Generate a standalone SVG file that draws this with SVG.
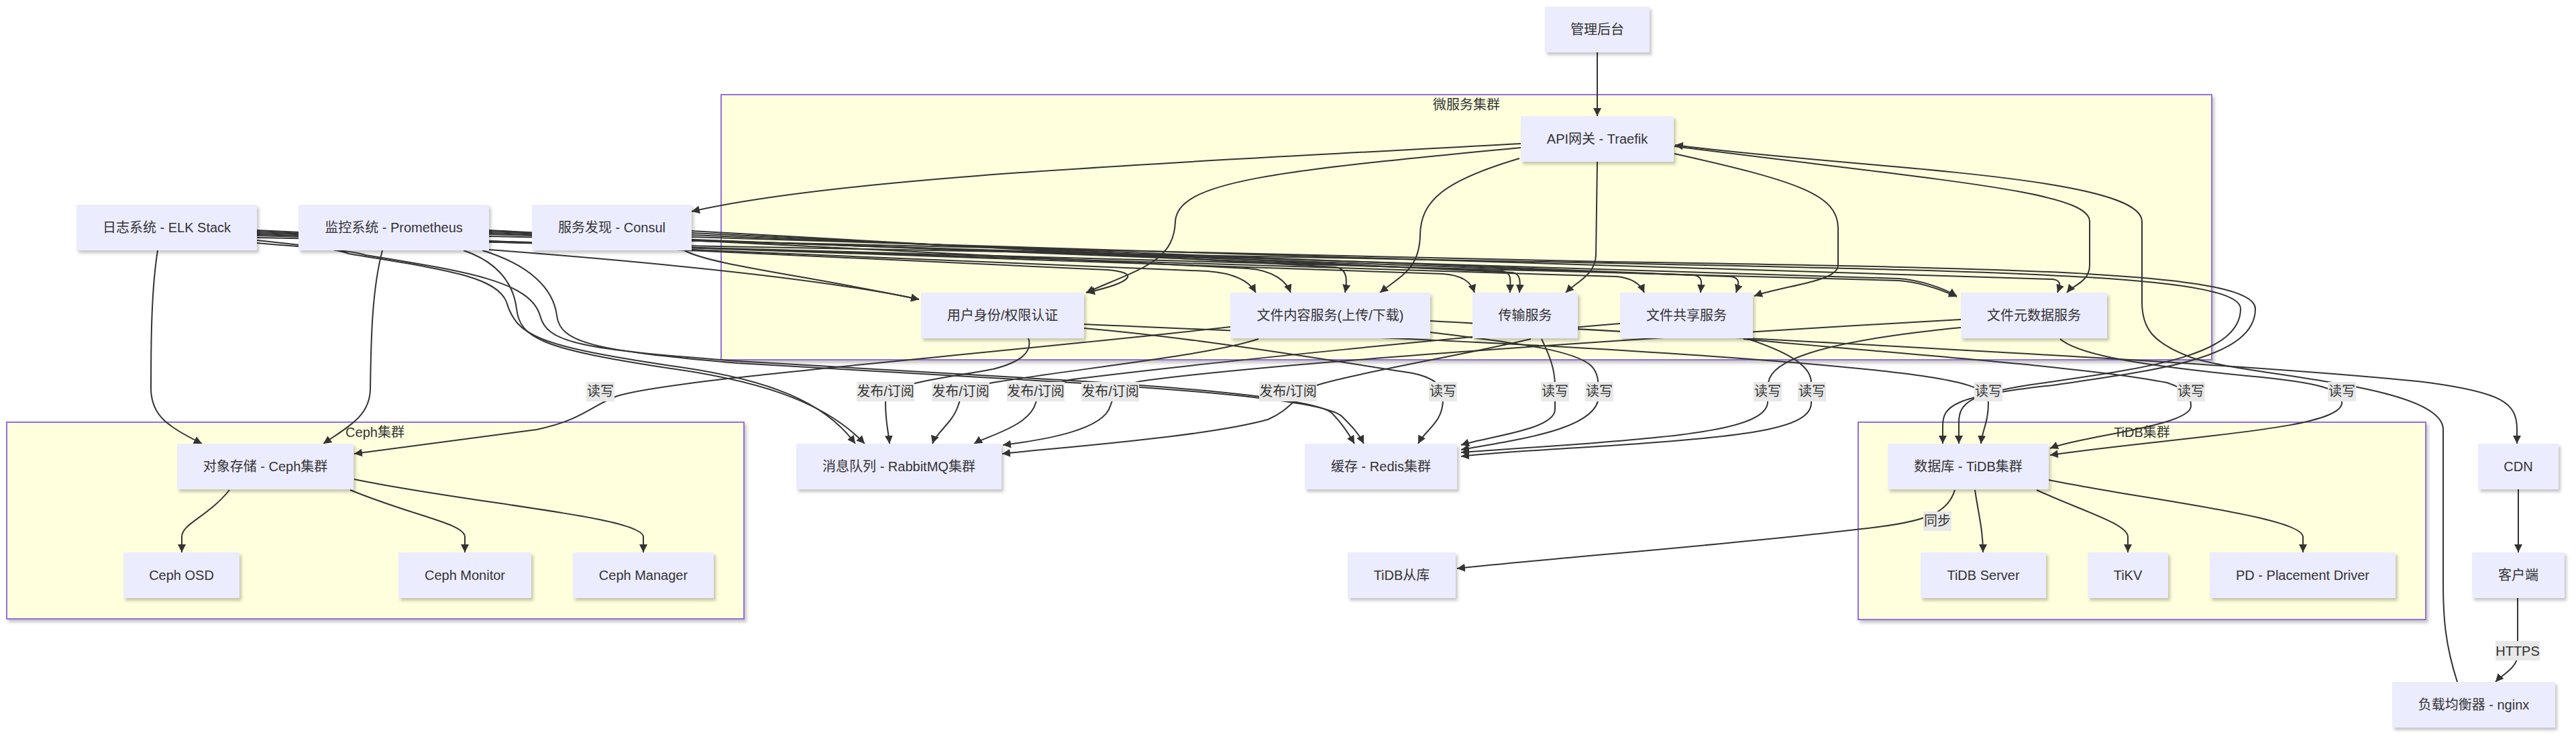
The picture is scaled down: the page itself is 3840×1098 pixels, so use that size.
<svg xmlns="http://www.w3.org/2000/svg" width="3840" height="1098" viewBox="0 0 3840 1098">
<style>
.bg{fill:#ffffff}
.cl{fill:#FFFFDE;stroke:#9370DB;stroke-width:2}
.nd{fill:#ECECFF}
.t{font-family:"Liberation Sans","Noto Sans CJK SC",sans-serif;font-size:20px;fill:#333333;text-anchor:middle;dominant-baseline:central}
.e{fill:none;stroke:#333333;stroke-width:2;marker-end:url(#arr)}
.lb{fill:#e8e8e8}
</style>
<defs>
<marker id="arr" viewBox="0 0 10 10" refX="10" refY="5" markerUnits="userSpaceOnUse" markerWidth="12" markerHeight="12" orient="auto">
<path d="M0,0 L10,5 L0,10 z" fill="#333333"/>
</marker>
<filter id="sh" x="-10%" y="-10%" width="130%" height="140%">
<feDropShadow dx="3" dy="4" stdDeviation="2" flood-color="#000000" flood-opacity="0.22"/>
</filter>
</defs>
<rect class="bg" x="0" y="0" width="3840" height="1098"/>

<g id="clusters">
<g id="cluster-micro"><rect class="cl" x="1075" y="141" width="2222" height="395" filter="url(#sh)"/><text class="t" x="2186" y="156">微服务集群</text></g>
<g id="cluster-ceph"><rect class="cl" x="10" y="629" width="1099" height="293" filter="url(#sh)"/><text class="t" x="559" y="644">Ceph集群</text></g>
<g id="cluster-tidb"><rect class="cl" x="2770" y="629" width="846" height="294" filter="url(#sh)"/><text class="t" x="3193" y="644">TiDB集群</text></g>
</g>

<g id="edges">
<!-- admin / gateway -->
<path class="e" d="M2381,78 L2381,173"/>
<path class="e" d="M2267,214 C1700,245 1250,265 1031,315"/>
<path class="e" d="M2267,220 C1900,255 1755,270 1752,330 C1750,390 1700,400 1619,436"/>
<path class="e" d="M2265,236 C2150,270 2118,300 2117,350 C2116,400 2090,410 2057,436"/>
<path class="e" d="M2381,241 L2379,380 C2378,410 2350,420 2334,436"/>
<path class="e" d="M2496,229 C2680,270 2740,290 2740,340 L2740,395 C2740,420 2660,425 2615,441"/>
<path class="e" d="M2496,218 C2900,270 3115,285 3115,330 L3115,395 C3115,420 3090,425 3081,436"/>
<path class="e" d="M3663,1016 C3645,960 3642,920 3642,870 L3642,640 C3642,570 3330,560 3260,530 C3210,510 3193,490 3193,450 L3193,330 C3193,260 2750,250 2497,216"/>
<!-- client side -->
<path class="e" d="M3753,891 L3753,975 C3753,995 3730,1005 3720,1016"/>
<path class="e" d="M3754,729 L3754,823"/>
<path class="e" d="M2132,478 C2600,505 3350,540 3620,570 C3730,585 3752,600 3752,640 L3752,661"/>
<!-- auth -->
<path class="e" d="M1616,483 C2000,500 2500,520 2800,552 C2940,567 2964,580 2964,600 C2964,630 2955,640 2953,661"/>
<path class="e" d="M1616,489 C1800,505 2000,540 2100,555 C2140,562 2151,575 2151,595 C2151,630 2125,640 2114,661"/>
<path class="e" d="M1533,504 C1540,525 1520,540 1480,550 C1400,565 1320,570 1320,600 C1320,630 1324,640 1326,661"/>
<!-- content -->
<path class="e" d="M1834,487 C1400,535 1000,565 920,590 C880,605 870,625 800,640 L528,676"/>
<path class="e" d="M2132,495 C2250,510 2345,520 2372,545 C2383,556 2383,570 2383,590 C2383,640 2260,655 2178,670"/>
<path class="e" d="M1876,505 C1800,530 1600,550 1480,570 C1440,578 1432,590 1428,605 C1420,630 1395,645 1390,661"/>
<!-- transfer -->
<path class="e" d="M2298,505 C2310,530 2318,550 2318,575 L2318,610 C2318,640 2220,650 2178,663"/>
<path class="e" d="M2282,505 C2200,525 2000,560 1960,575 C1930,590 1925,610 1890,625 C1800,650 1600,665 1494,676"/>
<!-- share -->
<path class="e" d="M2599,505 C2800,525 3100,545 3230,570 C3260,580 3266,590 3266,605 C3266,635 3100,650 3056,668"/>
<path class="e" d="M2606,505 C2650,520 2700,540 2700,570 L2700,600 C2700,640 2600,650 2400,664 C2300,670 2220,675 2178,680"/>
<path class="e" d="M2415,482 C2200,500 1800,540 1600,565 C1560,572 1548,585 1544,600 C1535,635 1470,650 1452,661"/>
<!-- meta -->
<path class="e" d="M2923,476 C2500,500 1900,540 1700,568 C1665,575 1660,590 1655,605 C1645,640 1560,655 1495,663"/>
<path class="e" d="M2923,488 C2700,510 2640,540 2636,570 L2635,600 C2632,640 2500,650 2350,662 C2270,668 2210,672 2178,674"/>
<path class="e" d="M3071,505 C3100,530 3200,545 3350,560 C3460,570 3491,580 3491,600 C3491,640 3250,650 3056,678"/>
<!-- tidb -->
<path class="e" d="M2944,730 C2950,770 2956,790 2956,823"/>
<path class="e" d="M3036,730 C3100,760 3172,780 3172,800 L3172,823"/>
<path class="e" d="M3054,715 C3200,745 3433,770 3433,800 L3433,823"/>
<path class="e" d="M2914,730 C2905,760 2880,775 2800,785 C2600,810 2350,828 2172,847"/>
<!-- ceph -->
<path class="e" d="M342,730 C310,770 271,780 271,800 L271,823"/>
<path class="e" d="M522,730 C620,770 693,780 693,800 L693,823"/>
<path class="e" d="M528,714 C700,750 959,770 959,800 L959,823"/>
<!-- logging / monitoring / discovery -->
<path class="e" d="M235,373 C226,430 225,500 225,580 C226,620 250,635 301,661"/>
<path class="e" d="M570,373 C555,430 553,500 552,580 C551,620 520,635 482,661"/>
<path class="e" d="M383,358 C450,365 500,370 520,378 C650,400 740,410 755,450 C770,500 800,515 1000,545 C1150,565 1230,600 1275,661"/>
<path class="e" d="M691,373 C740,390 765,420 770,460 C775,505 810,520 1000,549 C1150,570 1235,605 1289,661"/>
<path class="e" d="M383,362 C450,368 520,372 545,380 C700,405 790,420 805,470 C815,510 860,520 1100,538 L1614,568 C1800,580 1960,595 1985,615 C2000,630 2010,645 2019,661"/>
<path class="e" d="M719,373 C790,395 825,430 830,470 C835,510 880,522 1100,541 L1614,571 C1800,583 1975,598 2000,620 C2015,635 2025,645 2033,661"/>
<path class="e" d="M383,354 L2400,392 C3000,405 3340,410 3340,460 C3340,530 3200,548 3050,570 C2935,585 2920,600 2920,630 L2920,661"/>
<path class="e" d="M729,352 L2400,390 C3020,400 3362,405 3362,460 C3362,535 3210,552 3060,574 C2910,590 2896,605 2896,635 L2896,661"/>
<path class="e" d="M383,343 L1650,402 C1700,406 1690,420 1620,436"/>
<path class="e" d="M729,372 C900,385 1200,410 1370,446"/>
<path class="e" d="M1020,373 C1060,395 1200,410 1370,446"/>
<path class="e" d="M383,345 L1800,404 C1840,407 1862,418 1872,436"/>
<path class="e" d="M729,343 L1860,400 C1900,403 1918,420 1924,436"/>
<path class="e" d="M1031,344 L1990,398 C2010,400 2008,420 2005,436"/>
<path class="e" d="M383,347 L2150,408 C2180,410 2193,420 2198,436"/>
<path class="e" d="M729,345 L2240,404 C2255,406 2251,420 2251,436"/>
<path class="e" d="M1031,347 L2255,406 C2268,408 2266,422 2265,436"/>
<path class="e" d="M383,349 L2410,412 C2430,414 2445,422 2451,436"/>
<path class="e" d="M729,347 L2525,410 C2540,412 2536,424 2535,436"/>
<path class="e" d="M1031,350 L2580,412 C2595,414 2592,424 2588,436"/>
<path class="e" d="M383,351 L2830,418 C2860,420 2890,430 2917,442"/>
<path class="e" d="M729,349 L2830,415 C2860,417 2895,428 2917,441"/>
<path class="e" d="M1031,353 L3060,416 C3075,418 3070,428 3067,436"/>
</g>

<g id="edge-labels">
<rect class="lb" x="874" y="569" width="42" height="29"/><text class="t" x="895" y="583">读写</text>
<rect class="lb" x="1277" y="569" width="86" height="29"/><text class="t" x="1320" y="583">发布/订阅</text>
<rect class="lb" x="1389" y="569" width="86" height="29"/><text class="t" x="1432" y="583">发布/订阅</text>
<rect class="lb" x="1501" y="569" width="86" height="29"/><text class="t" x="1544" y="583">发布/订阅</text>
<rect class="lb" x="1612" y="569" width="86" height="29"/><text class="t" x="1655" y="583">发布/订阅</text>
<rect class="lb" x="1877" y="569" width="86" height="29"/><text class="t" x="1920" y="583">发布/订阅</text>
<rect class="lb" x="2130" y="569" width="42" height="29"/><text class="t" x="2151" y="583">读写</text>
<rect class="lb" x="2297" y="569" width="42" height="29"/><text class="t" x="2318" y="583">读写</text>
<rect class="lb" x="2363" y="569" width="42" height="29"/><text class="t" x="2384" y="583">读写</text>
<rect class="lb" x="2614" y="569" width="42" height="29"/><text class="t" x="2635" y="583">读写</text>
<rect class="lb" x="2680" y="569" width="42" height="29"/><text class="t" x="2701" y="583">读写</text>
<rect class="lb" x="2943" y="569" width="42" height="29"/><text class="t" x="2964" y="583">读写</text>
<rect class="lb" x="3245" y="569" width="42" height="29"/><text class="t" x="3266" y="583">读写</text>
<rect class="lb" x="3470" y="569" width="42" height="29"/><text class="t" x="3491" y="583">读写</text>
<rect class="lb" x="2867" y="762" width="42" height="29"/><text class="t" x="2888" y="776">同步</text>
<rect class="lb" x="3720" y="955" width="66" height="29"/><text class="t" x="3753" y="970">HTTPS</text>
</g>

<g id="n-admin"><rect class="nd" x="2303" y="10" width="156" height="68" filter="url(#sh)"/><text class="t" x="2381" y="44">管理后台</text></g>
<g id="n-api"><rect class="nd" x="2267" y="173" width="228" height="68" filter="url(#sh)"/><text class="t" x="2381" y="207">API网关 - Traefik</text></g>
<g id="n-elk"><rect class="nd" x="114" y="305" width="269" height="68" filter="url(#sh)"/><text class="t" x="248.5" y="339">日志系统 - ELK Stack</text></g>
<g id="n-prom"><rect class="nd" x="445" y="305" width="284" height="68" filter="url(#sh)"/><text class="t" x="587" y="339">监控系统 - Prometheus</text></g>
<g id="n-consul"><rect class="nd" x="793" y="305" width="238" height="68" filter="url(#sh)"/><text class="t" x="912" y="339">服务发现 - Consul</text></g>
<g id="n-auth"><rect class="nd" x="1373" y="436" width="243" height="68" filter="url(#sh)"/><text class="t" x="1494.5" y="470">用户身份/权限认证</text></g>
<g id="n-content"><rect class="nd" x="1834" y="436" width="298" height="68" filter="url(#sh)"/><text class="t" x="1983" y="470">文件内容服务(上传/下载)</text></g>
<g id="n-transfer"><rect class="nd" x="2195" y="436" width="157" height="68" filter="url(#sh)"/><text class="t" x="2273.5" y="470">传输服务</text></g>
<g id="n-share"><rect class="nd" x="2415" y="436" width="198" height="68" filter="url(#sh)"/><text class="t" x="2514" y="470">文件共享服务</text></g>
<g id="n-meta"><rect class="nd" x="2923" y="436" width="218" height="68" filter="url(#sh)"/><text class="t" x="3032" y="470">文件元数据服务</text></g>
<g id="n-ceph"><rect class="nd" x="264" y="661" width="263" height="68" filter="url(#sh)"/><text class="t" x="395.5" y="695">对象存储 - Ceph集群</text></g>
<g id="n-osd"><rect class="nd" x="184" y="823" width="173" height="68" filter="url(#sh)"/><text class="t" x="270.5" y="857">Ceph OSD</text></g>
<g id="n-mon"><rect class="nd" x="594" y="823" width="198" height="68" filter="url(#sh)"/><text class="t" x="693" y="857">Ceph Monitor</text></g>
<g id="n-mgr"><rect class="nd" x="854" y="823" width="210" height="68" filter="url(#sh)"/><text class="t" x="959" y="857">Ceph Manager</text></g>
<g id="n-mq"><rect class="nd" x="1187" y="661" width="306" height="68" filter="url(#sh)"/><text class="t" x="1340" y="695">消息队列 - RabbitMQ集群</text></g>
<g id="n-redis"><rect class="nd" x="1945" y="661" width="227" height="68" filter="url(#sh)"/><text class="t" x="2058.5" y="695">缓存 - Redis集群</text></g>
<g id="n-slave"><rect class="nd" x="2009" y="823" width="161" height="68" filter="url(#sh)"/><text class="t" x="2089.5" y="857">TiDB从库</text></g>
<g id="n-tidb"><rect class="nd" x="2814" y="661" width="240" height="68" filter="url(#sh)"/><text class="t" x="2934" y="695">数据库 - TiDB集群</text></g>
<g id="n-tserver"><rect class="nd" x="2863" y="823" width="187" height="68" filter="url(#sh)"/><text class="t" x="2956.5" y="857">TiDB Server</text></g>
<g id="n-tikv"><rect class="nd" x="3112" y="823" width="120" height="68" filter="url(#sh)"/><text class="t" x="3172" y="857">TiKV</text></g>
<g id="n-pd"><rect class="nd" x="3294" y="823" width="277" height="68" filter="url(#sh)"/><text class="t" x="3432.5" y="857">PD - Placement Driver</text></g>
<g id="n-cdn"><rect class="nd" x="3694" y="661" width="120" height="68" filter="url(#sh)"/><text class="t" x="3754" y="695">CDN</text></g>
<g id="n-client"><rect class="nd" x="3685" y="823" width="138" height="68" filter="url(#sh)"/><text class="t" x="3754" y="857">客户端</text></g>
<g id="n-lb"><rect class="nd" x="3566" y="1016" width="243" height="68" filter="url(#sh)"/><text class="t" x="3687.5" y="1050">负载均衡器 - nginx</text></g>
</svg>
